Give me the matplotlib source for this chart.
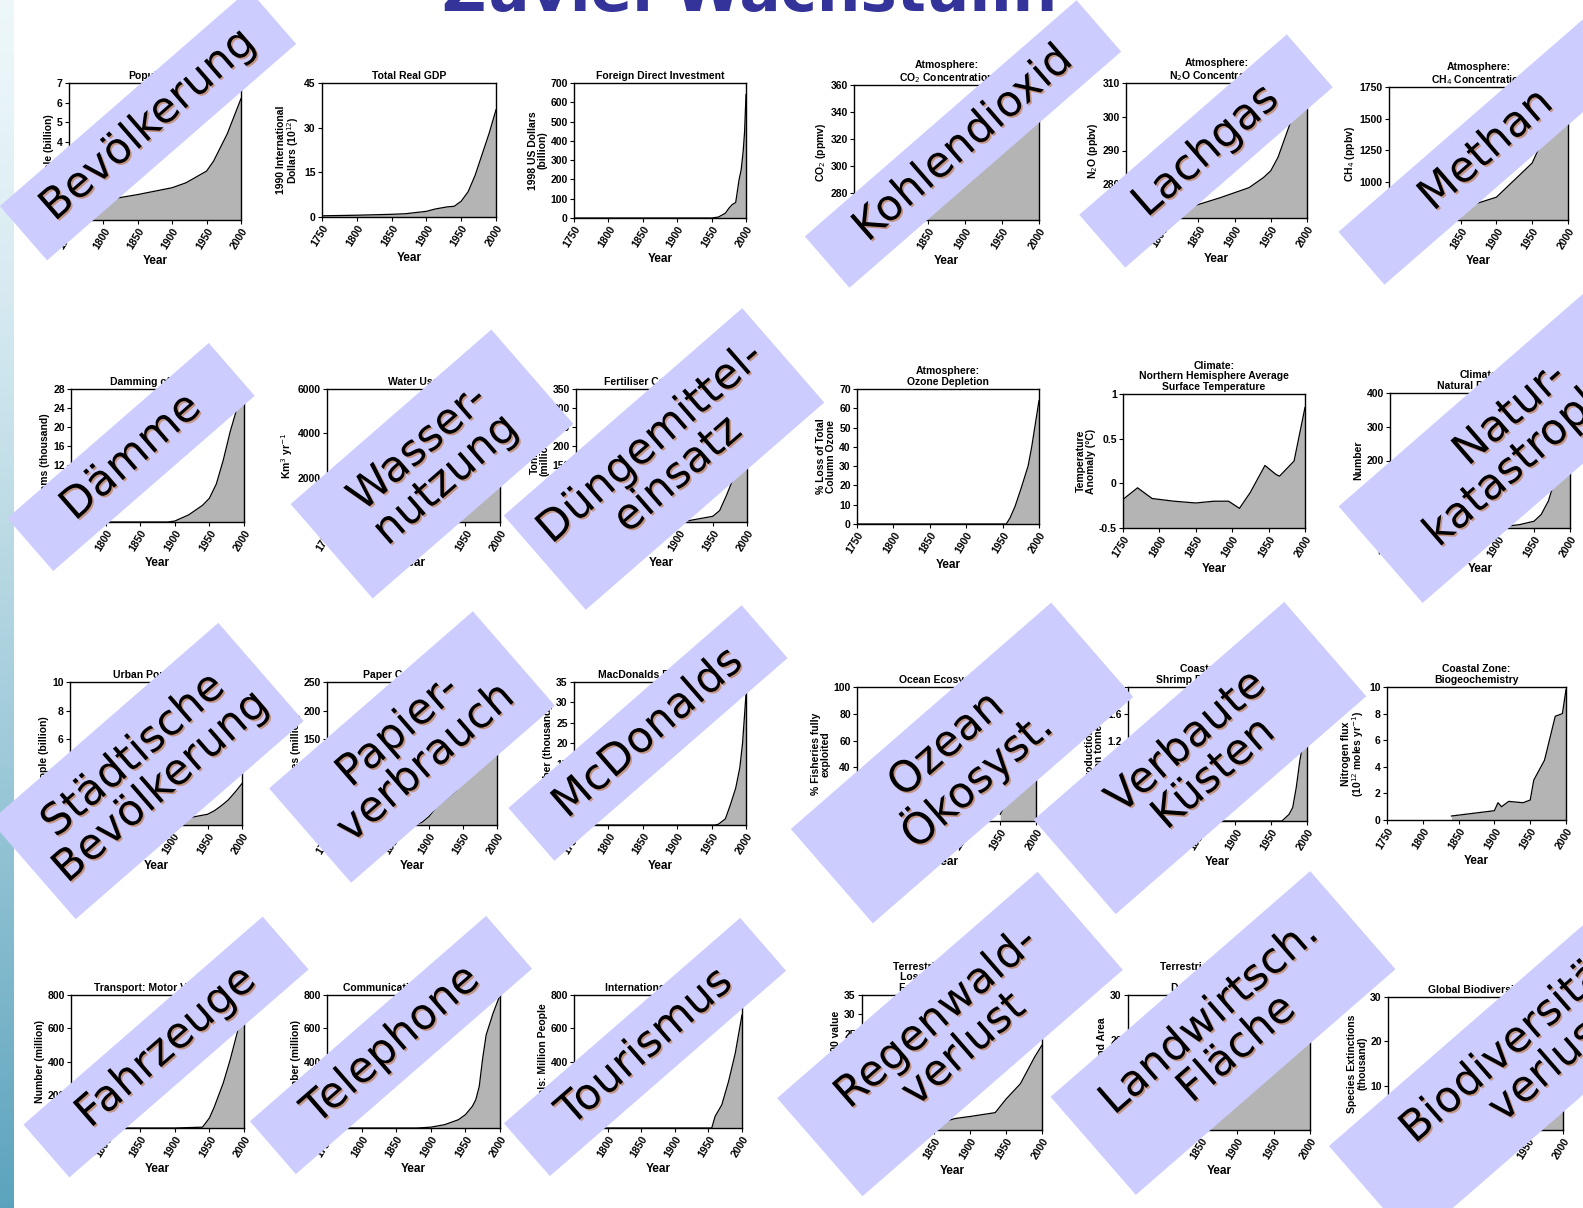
import numpy as np
import matplotlib.pyplot as plt
import matplotlib.patheffects as pe
from matplotlib.patches import Polygon

W, H = 1583, 1208
plt.rcParams['font.family'] = ['Liberation Sans', 'DejaVu Sans']

# ---------------- data ----------------
pop_x = [1750, 1800, 1850, 1900, 1920, 1940, 1950, 1960, 1970, 1980, 1990, 2000]
pop_y = [0.8, 1.0, 1.3, 1.65, 1.9, 2.3, 2.5, 3.0, 3.7, 4.4, 5.3, 6.2]

gdp_x = [1750, 1800, 1850, 1870, 1900, 1913, 1930, 1940, 1950, 1960, 1970, 1980, 1990, 2000]
gdp_y = [0.4, 0.6, 0.9, 1.1, 1.9, 2.7, 3.4, 3.6, 5.3, 8.5, 14, 21, 28, 36]

fdi_x = [1750, 1950, 1960, 1970, 1975, 1980, 1985, 1990, 1993, 1996, 1998, 2000]
fdi_y = [0, 0, 5, 25, 50, 70, 80, 200, 250, 350, 450, 640]

co2_x = [1750, 1800, 1850, 1900, 1950, 1960, 1970, 1980, 1990, 2000]
co2_y = [277, 282, 285, 296, 311, 317, 325, 338, 352, 362]

n2o_x = [1750, 1800, 1850, 1880, 1900, 1920, 1940, 1950, 1960, 1970, 1980, 1990, 2000]
n2o_y = [270.5, 271, 274, 276, 277.5, 279, 282, 284, 288, 294, 300, 305, 309]

ch4_x = [1750, 1800, 1850, 1900, 1950, 1970, 1980, 1990, 2000]
ch4_y = [700, 715, 790, 880, 1150, 1400, 1550, 1700, 1740]

dam_x = [1750, 1890, 1900, 1920, 1940, 1950, 1960, 1970, 1980, 1990, 2000]
dam_y = [0, 0, 0.2, 1.5, 3.5, 5, 8, 13, 19, 24, 26]

water_x = [1750, 1800, 1850, 1900, 1950, 1960, 1970, 1980, 1990, 2000]
water_y = [300, 350, 420, 580, 1380, 2000, 2600, 3200, 3600, 3900]

fert_x = [1750, 1900, 1910, 1950, 1960, 1970, 1980, 1990, 2000]
fert_y = [0, 0, 2, 15, 30, 70, 115, 140, 140]

ozone_x = [1750, 1955, 1960, 1967, 1975, 1985, 1990, 1995, 2000]
ozone_y = [0, 0, 3, 9, 18, 30, 40, 52, 64]

temp_x = [1750, 1770, 1790, 1820, 1850, 1875, 1895, 1910, 1925, 1935, 1945, 1960, 1965, 1985, 2000]
temp_y = [-0.18, -0.05, -0.17, -0.2, -0.22, -0.2, -0.2, -0.28, -0.1, 0.05, 0.2, 0.1, 0.08, 0.25, 0.85]

dis_x = [1750, 1900, 1910, 1930, 1950, 1960, 1970, 1980, 1990, 2000]
dis_y = [0, 0, 5, 10, 20, 40, 80, 150, 250, 330]

urban_x = [1750, 1800, 1850, 1900, 1950, 1960, 1970, 1980, 1990, 2000]
urban_y = [0.1, 0.15, 0.2, 0.3, 0.75, 1.0, 1.35, 1.75, 2.3, 2.9]

paper_x = [1750, 1880, 1890, 1900, 1910, 1920, 1930, 1940, 1950, 1960, 1970, 1980, 1990, 2000]
paper_y = [0, 0, 5, 15, 30, 40, 50, 60, 80, 110, 140, 170, 210, 245]

mcd_x = [1750, 1955, 1960, 1970, 1977, 1985, 1991, 1995, 2000]
mcd_y = [0, 0, 0.2, 1.5, 4.8, 9, 14, 20, 32]

ocean_x = [1950, 1960, 1970, 1980, 1990, 2000]
ocean_y = [5, 15, 35, 55, 70, 75]

shrimp_x = [1750, 1965, 1975, 1980, 1985, 1990, 1995, 2000]
shrimp_y = [0, 0, 0.1, 0.2, 0.5, 0.9, 1.2, 1.6]

nitro_x = [1840, 1870, 1900, 1905, 1910, 1920, 1940, 1950, 1955, 1970, 1985, 1995, 2000]
nitro_y = [0.3, 0.5, 0.7, 1.3, 1.0, 1.4, 1.3, 1.5, 3.0, 4.5, 7.8, 8.0, 9.8]

motor_x = [1750, 1900, 1940, 1950, 1957, 1970, 1980, 1990, 2000]
motor_y = [0, 0, 5, 60, 126, 270, 410, 570, 730]

tel_x = [1750, 1880, 1900, 1920, 1940, 1950, 1960, 1965, 1970, 1975, 1980, 1990, 2000]
tel_y = [0, 0, 5, 20, 50, 80, 130, 170, 250, 420, 560, 690, 800]

tour_x = [1750, 1955, 1960, 1970, 1980, 1990, 2000]
tour_y = [0, 0, 70, 140, 280, 450, 680]

forest_x = [1750, 1800, 1850, 1880, 1900, 1935, 1950, 1970, 1990, 2000]
forest_y = [0, 0.5, 1.5, 3, 3.5, 4.5, 8, 12, 19, 22]

land_x = [1750, 1800, 1850, 1900, 1950, 1970, 1990, 2000]
land_y = [5, 6, 9, 13, 20, 24, 27, 28]

bio_x = [1800, 1850, 1900, 1950, 1975, 1990, 2000]
bio_y = [0, 0.2, 0.5, 1, 3, 8, 25]

years_ticks = list(range(1750, 2001, 50))

# chart: (box px left, top, right, bottom), title, ylabel, x, y, ylim, yticks
charts = [
    ((69, 83, 241, 220), "Population", "People (billion)", pop_x, pop_y, (0, 7), range(0, 8)),
    ((322, 83, 496, 217), "Total Real GDP", "1990 International\nDollars (10$^{12}$)", gdp_x, gdp_y, (0, 45), [0, 15, 30, 45]),
    ((574, 83, 746, 218), "Foreign Direct Investment", "1998 US Dollars\n(billion)", fdi_x, fdi_y, (0, 700), range(0, 701, 100)),
    ((854, 85, 1039, 220), "Atmosphere:\nCO$_2$ Concentration", "CO$_2$ (ppmv)", co2_x, co2_y, (260, 360), range(280, 361, 20)),
    ((1126, 83, 1307, 218), "Atmosphere:\nN$_2$O Concentration", "N$_2$O (ppbv)", n2o_x, n2o_y, (270, 310), range(280, 311, 10)),
    ((1389, 87, 1568, 220), "Atmosphere:\nCH$_4$ Concentration", "CH$_4$ (ppbv)", ch4_x, ch4_y, (700, 1750), range(750, 1751, 250)),
    ((71, 389, 244, 522), "Damming of Rivers", "Dams (thousand)", dam_x, dam_y, (0, 28), range(0, 29, 4)),
    ((327, 389, 500, 522), "Water Use", "Km$^3$ yr$^{-1}$", water_x, water_y, (0, 6000), [0, 2000, 4000, 6000]),
    ((576, 389, 747, 522), "Fertiliser Consumption", "Tonnes\n(million)", fert_x, fert_y, (0, 350), range(0, 351, 50)),
    ((857, 389, 1039, 524), "Atmosphere:\nOzone Depletion", "% Loss of Total\nColumn Ozone", ozone_x, ozone_y, (0, 70), range(0, 71, 10)),
    ((1123, 394, 1305, 528), "Climate:\nNorthern Hemisphere Average\nSurface Temperature", "Temperature\nAnomaly (\u00b0C)", temp_x, temp_y, (-0.5, 1.0), [-0.5, 0, 0.5, 1.0]),
    ((1390, 393, 1570, 528), "Climate:\nNatural Disasters", "Number", dis_x, dis_y, (0, 400), range(0, 401, 100)),
    ((70, 682, 242, 825), "Urban Population", "People (billion)", urban_x, urban_y, (0, 10), range(0, 11, 2)),
    ((327, 682, 497, 825), "Paper Consumption", "Tonnes (million)", paper_x, paper_y, (0, 250), range(0, 251, 50)),
    ((574, 682, 746, 825), "MacDonalds Restaurants", "Number (thousand)", mcd_x, mcd_y, (0, 35), range(0, 36, 5)),
    ((857, 687, 1036, 821), "Ocean Ecosystems", "% Fisheries fully\nexploited", ocean_x, ocean_y, (0, 100), range(0, 101, 20)),
    ((1128, 687, 1307, 821), "Coastal Zones:\nShrimp Farm Production", "Production\n(million tonnes)", shrimp_x, shrimp_y, (0, 2), [0, 0.4, 0.8, 1.2, 1.6, 2]),
    ((1387, 687, 1566, 820), "Coastal Zone:\nBiogeochemistry", "Nitrogen flux\n(10$^{12}$ moles yr$^{-1}$)", nitro_x, nitro_y, (0, 10), range(0, 11, 2)),
    ((71, 995, 244, 1128), "Transport: Motor Vehicles", "Number (million)", motor_x, motor_y, (0, 800), range(0, 801, 200)),
    ((327, 995, 500, 1128), "Communication: Telephones", "Number (million)", tel_x, tel_y, (0, 800), range(0, 801, 200)),
    ((574, 995, 742, 1128), "International Tourism", "Arrivals: Million People", tour_x, tour_y, (0, 800), range(0, 801, 200)),
    ((862, 995, 1042, 1130), "Terrestrial Ecosystems:\nLoss of Tropical Rain\nForest and Woodland", "% Loss of 1700 value", forest_x, forest_y, (0, 35), range(0, 36, 5)),
    ((1128, 995, 1310, 1130), "Terrestrial Ecosystems:\nAmount of\nDomesticated Land", "% Total Land Area", land_x, land_y, (0, 30), range(0, 31, 10)),
    ((1388, 997, 1563, 1130), "Global Biodiversity", "Species Extinctions\n(thousand)", bio_x, bio_y, (0, 30), range(0, 31, 10)),
]

# overlay labels: text, centre x, centre y, length, thickness (px)
labels = [
    ("Bevölkerung", 148, 125, 330, 72),
    ("Kohlendioxid", 963, 144, 360, 68),
    ("Lachgas", 1206, 151, 275, 70),
    ("Methan", 1486, 150, 330, 70),
    ("Dämme", 131, 457, 267, 70),
    ("Wasser-\nnutzung", 432, 464, 266, 125),
    ("Düngemittel-\neinsatz", 664, 459, 316, 125),
    ("Natur-\nkatastrophen", 1524, 430, 380, 128),
    ("Städtische\nBevölkerung", 147, 771, 302, 130),
    ("Papier-\nverbrauch", 412, 747, 270, 125),
    ("McDonalds", 648, 733, 309, 70),
    ("Ozean\nÖkosyst.", 962, 763, 345, 125),
    ("Verbaute\nKüsten", 1200, 758, 332, 125),
    ("Fahrzeuge", 166, 1047, 317, 70),
    ("Telephone", 391, 1045, 313, 70),
    ("Tourismus", 645, 1047, 313, 70),
    ("Regenwald-\nverlust", 950, 1034, 345, 130),
    ("Landwirtsch.\nFläche", 1223, 1033, 344, 130),
    ("Biodiversitäts-\nverlust", 1537, 1050, 440, 128),
]

fig = plt.figure(figsize=(W / 100, H / 100), dpi=100)
fig.patch.set_facecolor('white')

# left gradient strip
strip = fig.add_axes([0, 0, 14 / W, 1])
grad = np.linspace(0, 1, 256).reshape(-1, 1)
top_c = np.array([0.93, 0.97, 0.98])
bot_c = np.array([0.36, 0.64, 0.74])
img = top_c + (bot_c - top_c) * grad[..., None] ** 1.3
strip.imshow(img, aspect='auto', extent=[0, 1, 0, 1])
strip.axis('off')

# cut-off slide title
fig.text(442 / W, 1 - 11 / H, "Zuviel Wachstum!", color='#333399', fontsize=44,
         fontweight='bold', family='DejaVu Sans', va='baseline')

for box, title, ylab, xs, ys, ylim, yt in charts:
    l, t, r, b = box
    ax = fig.add_axes([l / W, 1 - b / H, (r - l) / W, (b - t) / H])
    ax.fill_between(xs, ys, ylim[0], color='#b4b4b4', lw=0)
    ax.plot(xs, ys, color='black', lw=0.9)
    ax.set_xlim(1750, 2000)
    ax.set_ylim(*ylim)
    ax.set_xticks(years_ticks)
    ax.set_xticklabels([str(v) for v in years_ticks], rotation=58, ha='right',
                       rotation_mode='anchor', fontsize=7.5, fontweight='bold')
    ax.set_yticks(list(yt))
    ax.set_yticklabels([('%g' % v) for v in yt], fontsize=7.5, fontweight='bold')
    ax.tick_params(length=3, width=0.8, pad=1.5)
    for s in ax.spines.values():
        s.set_linewidth(1.0)
    ax.set_title(title, fontsize=7.5, fontweight='bold', pad=3, linespacing=1.05)
    ax.set_ylabel(ylab, fontsize=7.5, fontweight='bold', labelpad=2, linespacing=1.0)
    ax.set_xlabel("Year", fontsize=8.5, fontweight='bold', labelpad=3)

# lavender diagonal bands with German labels
ov = fig.add_axes([0, 0, 1, 1], zorder=10)
ov.set_xlim(0, W)
ov.set_ylim(H, 0)
ov.axis('off')
ang = np.deg2rad(41)
u = np.array([np.cos(ang), -np.sin(ang)])
n = np.array([np.sin(ang), np.cos(ang)])
for txt, cx, cy, L, T in labels:
    c = np.array([cx, cy])
    pts = [c - u * L / 2 - n * T / 2, c + u * L / 2 - n * T / 2,
           c + u * L / 2 + n * T / 2, c - u * L / 2 + n * T / 2]
    ov.add_patch(Polygon(pts, closed=True, facecolor='#ccccff', edgecolor='none'))
    ov.text(cx, cy, txt, rotation=41, rotation_mode='anchor', ha='center', va='center',
            multialignment='center', fontsize=31, family='DejaVu Sans', color='black',
            linespacing=1.0,
            path_effects=[pe.withSimplePatchShadow(offset=(1.2, -1.2), shadow_rgbFace='#c07030', alpha=0.6)])

fig.savefig('out.png', dpi=100)
